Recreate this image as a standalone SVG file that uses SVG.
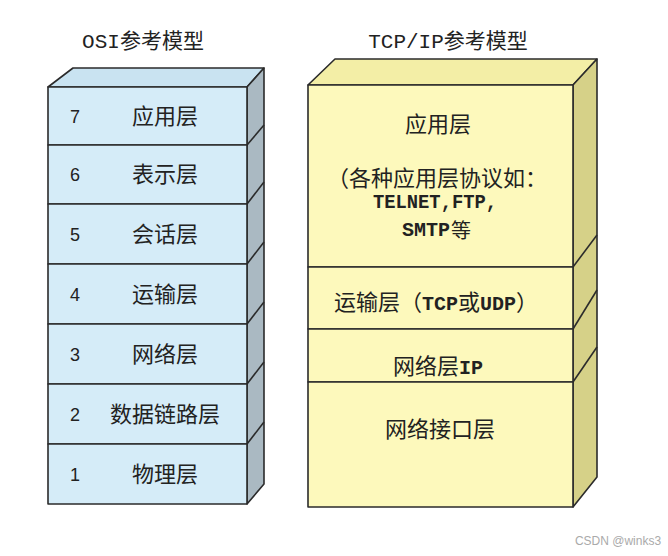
<svg xmlns="http://www.w3.org/2000/svg" width="668" height="556" viewBox="0 0 668 556">
<style>
.edge{stroke:#2b2b2b;stroke-width:1.6;stroke-linejoin:round}
.ofront{fill:#d5ecf8}
.otop{fill:#c9e3f1}
.oside{fill:#aab9c2}
.tfront{fill:#fdf9bc}
.ttop{fill:#f3eea6}
.tside{fill:#d6d188}
.t{font-family:"Liberation Mono","Noto Sans CJK SC",monospace;fill:#222}
.cn{font-family:"Noto Sans CJK SC","Liberation Sans",sans-serif;font-size:22px;fill:#222;text-anchor:middle}
.num{font-family:"Liberation Sans","Noto Sans CJK SC",sans-serif;font-size:18px;fill:#222;text-anchor:middle}
.mx{font-family:"Liberation Mono","Noto Sans CJK SC",monospace;font-size:21px;font-weight:bold;fill:#222}
</style>
<rect width="668" height="556" fill="#ffffff"/>
<text class="t" x="143" y="48" font-size="21" text-anchor="middle">OSI参考模型</text>
<text class="t" x="448" y="48" font-size="21" text-anchor="middle">TCP/IP参考模型</text>

<g id="osi-box">
<polygon class="otop edge" points="48,87 73,68 264,68 247,87"/>
<polygon class="oside edge" points="247,87 264,68 264,484 247,504"/>
<line class="edge" x1="247" y1="145" x2="264" y2="125"/>
<line class="edge" x1="247" y1="204" x2="264" y2="182"/>
<line class="edge" x1="247" y1="264" x2="264" y2="242"/>
<line class="edge" x1="247" y1="324" x2="264" y2="302"/>
<line class="edge" x1="247" y1="384" x2="264" y2="362"/>
<line class="edge" x1="247" y1="444" x2="264" y2="422"/>
</g>
<g id="osi-7"><rect class="ofront edge" x="48" y="87" width="199" height="58"/><text class="num" x="75" y="123">7</text><text class="cn" x="165" y="124">应用层</text></g>
<g id="osi-6"><rect class="ofront edge" x="48" y="145" width="199" height="59"/><text class="num" x="75" y="181">6</text><text class="cn" x="165" y="182">表示层</text></g>
<g id="osi-5"><rect class="ofront edge" x="48" y="204" width="199" height="60"/><text class="num" x="75" y="241">5</text><text class="cn" x="165" y="242">会话层</text></g>
<g id="osi-4"><rect class="ofront edge" x="48" y="264" width="199" height="60"/><text class="num" x="75" y="301">4</text><text class="cn" x="165" y="302">运输层</text></g>
<g id="osi-3"><rect class="ofront edge" x="48" y="324" width="199" height="60"/><text class="num" x="75" y="361">3</text><text class="cn" x="165" y="362">网络层</text></g>
<g id="osi-2"><rect class="ofront edge" x="48" y="384" width="199" height="60"/><text class="num" x="75" y="421">2</text><text class="cn" x="165" y="422">数据链路层</text></g>
<g id="osi-1"><rect class="ofront edge" x="48" y="444" width="199" height="60"/><text class="num" x="75" y="481">1</text><text class="cn" x="165" y="482">物理层</text></g>

<g id="tcp-box">
<polygon class="ttop edge" points="308,85 335,59 597,59 573,85"/>
<polygon class="tside edge" points="573,85 597,59 597,477 573,507"/>
<line class="edge" x1="573" y1="267" x2="597" y2="235"/>
<line class="edge" x1="573" y1="329" x2="597" y2="290"/>
<line class="edge" x1="573" y1="382" x2="597" y2="347"/>
</g>
<g id="tcp-app"><rect class="tfront edge" x="308" y="85" width="265" height="182"/>
<text class="cn" x="438" y="132">应用层</text>
<text class="cn" x="437" y="186">（各种应用层协议如：</text>
<text class="mx" x="373" y="208" textLength="124" lengthAdjust="spacingAndGlyphs">TELNET,FTP,</text>
<text class="mx" x="402" y="236" textLength="48" lengthAdjust="spacingAndGlyphs">SMTP</text>
<text class="cn" x="461" y="238" style="font-size:20px">等</text>
</g>
<g id="tcp-transport"><rect class="tfront edge" x="308" y="267" width="265" height="62"/>
<text class="t" x="436" y="310" text-anchor="middle"><tspan font-size="22" font-family="Noto Sans CJK SC,sans-serif">运输层（</tspan><tspan font-size="20" font-weight="bold">TCP</tspan><tspan font-size="22" font-family="Noto Sans CJK SC,sans-serif">或</tspan><tspan font-size="20" font-weight="bold">UDP</tspan><tspan font-size="22" font-family="Noto Sans CJK SC,sans-serif">）</tspan></text>
</g>
<g id="tcp-network"><rect class="tfront edge" x="308" y="329" width="265" height="53"/>
<text class="t" x="438" y="374" text-anchor="middle"><tspan font-size="22" font-family="Noto Sans CJK SC,sans-serif">网络层</tspan><tspan font-size="20" font-weight="bold">IP</tspan></text>
</g>
<g id="tcp-link"><rect class="tfront edge" x="308" y="382" width="265" height="125"/>
<text class="cn" x="440" y="437">网络接口层</text>
</g>
<g id="connectors"/>
<text x="618" y="545" font-family="Liberation Sans,sans-serif" font-size="12" fill="#aaaaaa" text-anchor="middle">CSDN @winks3</text>
</svg>
